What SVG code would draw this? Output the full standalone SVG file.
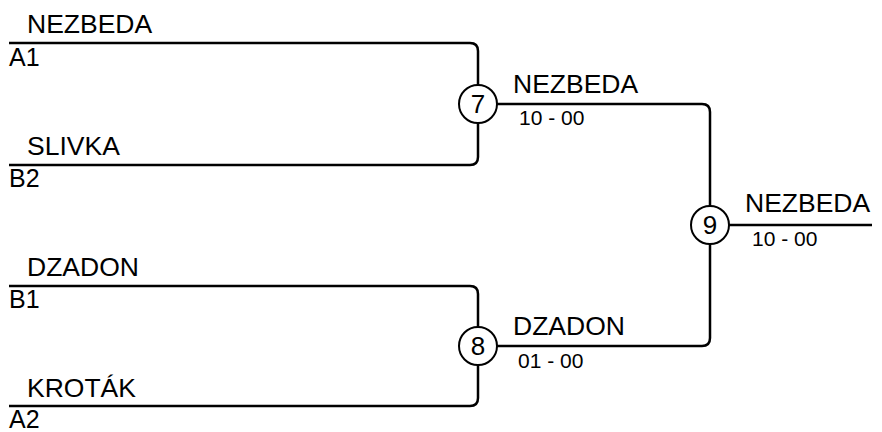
<svg xmlns="http://www.w3.org/2000/svg" width="882" height="432" viewBox="0 0 882 432">
<style>
.ln{fill:none;stroke:#000;stroke-width:2.5}
.c{fill:#fff;stroke:#000;stroke-width:2}
text{font-family:"Liberation Sans",Arial,sans-serif;fill:#000}
.nm{font-size:26.5px}
.sd{font-size:25px}
.sc{font-size:21px}
.num{font-size:26px;text-anchor:middle;dominant-baseline:central}
</style>
<rect width="882" height="432" fill="#fff"/>
<g id="connectors">
<path class="ln" d="M9,43 H470 Q478,43 478,51 V104"/>
<path class="ln" d="M9,165 H470 Q478,165 478,157 V104"/>
<path class="ln" d="M9,286 H470 Q478,286 478,294 V346"/>
<path class="ln" d="M9,406 H470 Q478,406 478,398 V346"/>
<path class="ln" d="M478,104 H702 Q710,104 710,112 V225"/>
<path class="ln" d="M478,346 H702 Q710,346 710,338 V225"/>
<path class="ln" d="M710,225 H872"/>
</g>
<g id="team-a1"><text class="nm" x="27" y="33">NEZBEDA</text><text class="sd" x="9" y="66">A1</text></g>
<g id="team-b2"><text class="nm" x="27" y="155">SLIVKA</text><text class="sd" x="9" y="187">B2</text></g>
<g id="team-b1"><text class="nm" x="27" y="276">DZADON</text><text class="sd" x="9" y="308">B1</text></g>
<g id="team-a2"><text class="nm" x="27" y="397">KROTÁK</text><text class="sd" x="9" y="428">A2</text></g>
<g id="match-7"><circle class="c" cx="478" cy="104" r="19"/><text class="num" x="478" y="104">7</text><text class="nm" x="513" y="93">NEZBEDA</text><text class="sc" x="519" y="125">10 - 00</text></g>
<g id="match-8"><circle class="c" cx="478" cy="346" r="19"/><text class="num" x="478" y="346">8</text><text class="nm" x="513" y="335">DZADON</text><text class="sc" x="518" y="368">01 - 00</text></g>
<g id="match-9"><circle class="c" cx="710" cy="225" r="19"/><text class="num" x="710" y="225">9</text><text class="nm" x="745" y="212">NEZBEDA</text><text class="sc" x="752" y="246">10 - 00</text></g>
</svg>
